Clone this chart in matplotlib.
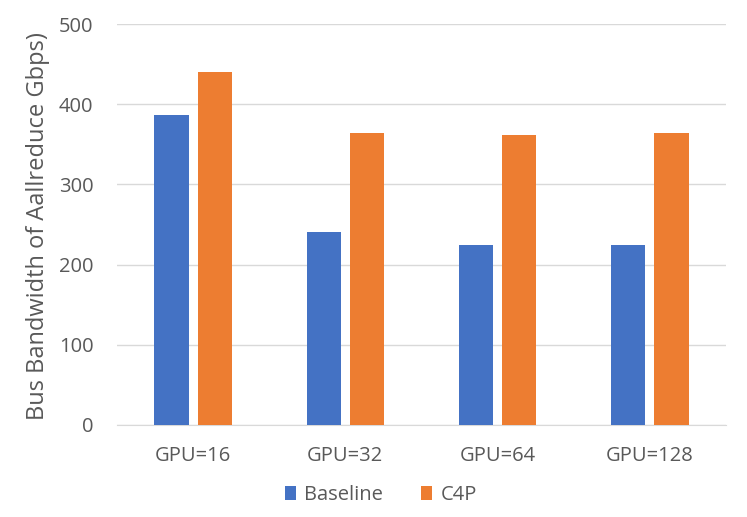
import matplotlib
matplotlib.use("Agg")
import matplotlib.pyplot as plt
import numpy as np

categories = ["GPU=16", "GPU=32", "GPU=64", "GPU=128"]
baseline = [386, 241, 224, 224]
c4p = [440, 364, 361, 364]
yticks = [0, 100, 200, 300, 400, 500]

plt.rcParams['font.family'] = ['Open Sans', 'DejaVu Sans']
txt = '#595959'

fig = plt.figure(figsize=(7.47, 5.17), dpi=100)
ax = fig.add_axes([117/747, 1-425/517, (726-117)/747, (425-24)/517])

x = np.arange(len(categories))
w = 0.224
off = 0.142
ax.bar(x - off, baseline, width=w, color='#4472C4', label='Baseline', zorder=3)
ax.bar(x + off, c4p, width=w, color='#ED7D31', label='C4P', zorder=3)

ax.set_xlim(-0.5, len(categories) - 0.5)
ax.set_ylim(0, 500)
ax.set_yticks(yticks)
ax.set_xticks(x)
ax.set_xticklabels(categories)
ax.grid(axis='y', color='#d9d9d9', linewidth=1, zorder=0)
for s in ['top', 'right', 'left']:
    ax.spines[s].set_visible(False)
ax.spines['bottom'].set_color('#d9d9d9')
ax.tick_params(axis='both', length=0, labelsize=14.5, colors=txt)
ax.tick_params(axis='x', pad=15)
ax.tick_params(axis='y', pad=17)
ax.set_ylabel('Bus Bandwidth of Aallreduce Gbps)', fontsize=17, color=txt)
ax.yaxis.set_label_coords((50-117)/609, 0.495)

leg = fig.legend(loc='center', bbox_to_anchor=(381/747, 1-495/517), ncol=2, frameon=False,
                 fontsize=14.5, handlelength=0.55, handleheight=0.75, columnspacing=1.9,
                 handletextpad=0.4)
for t in leg.get_texts():
    t.set_color(txt)

fig.savefig('out.png', dpi=100)
